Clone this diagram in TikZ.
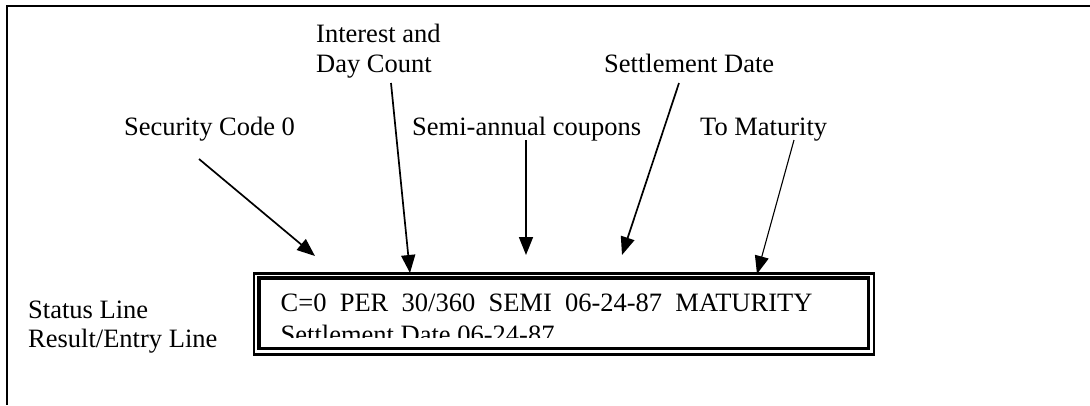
\documentclass[tikz,border=0pt]{standalone}
\usepackage{fontspec}
\setmainfont{Liberation Serif}
\usetikzlibrary{arrows.meta}
\begin{document}
\begin{tikzpicture}[x=1pt,y=-1pt,
  lbl/.style={anchor=base west,inner sep=0pt,font=\fontsize{26.5}{30}\selectfont},
  arr/.style={line width=1.7pt,-{Triangle[length=18pt,width=14pt]}},
  thinarr/.style={line width=1.1pt,-{Triangle[length=18pt,width=14pt]}},
  boxline/.style={draw,line width=2.8pt,inner sep=0pt}]
\useasboundingbox (0,0) rectangle (1090,405);
% frame
\draw[line width=2.2pt] (1090,6) -- (7,6) -- (7,405);
% labels
\node[lbl] (int1) at (316,42) {Interest and};
\node[lbl] (int2) at (316,72) {Day Count};
\node[lbl] (settle) at (604,72) {Settlement Date};
\node[lbl] (sec) at (124,135) {Security Code 0};
\node[lbl] (semi) at (412,135) {Semi-annual coupons};
\node[lbl] (mat) at (700,135) {To Maturity};
\node[lbl] (status) at (28,318) {Status Line};
\node[lbl] (result) at (28,347) {Result/Entry Line};
% screen box
\node[boxline,minimum width=620pt,minimum height=81pt] (outer) at (564,313.7) {};
\node[boxline,line width=3.5pt,minimum width=609.5pt,minimum height=70.7pt] (inner) at (563.75,313.35) {};
\node[lbl] (line1) at (280.5,311.5) {C=0\ \ PER\ \ 30/360\ \ SEMI\ \ 06-24-87\ \ MATURITY};
\begin{scope}
\clip (262,300) rectangle (866,337.5);
\node[lbl] (line2) at (280.5,343.5) {Settlement Date 06-24-87};
\end{scope}
% arrow ends
\coordinate (s1) at (199,159);  \coordinate (t1) at (315,256);
\coordinate (s2) at (391,83);   \coordinate (t2) at (410,273);
\coordinate (s3) at (526,140);  \coordinate (t3) at (526,255);
\coordinate (s4) at (679,83);   \coordinate (t4) at (622,255);
\coordinate (s5) at (794,140);  \coordinate (t5) at (757,274);
\draw[arr] (s1) -- (t1);
\draw[arr] (s2) -- (t2);
\draw[arr] (s3) -- (t3);
\draw[arr] (s4) -- (t4);
\draw[thinarr] (s5) -- (t5);
\end{tikzpicture}
\end{document}
